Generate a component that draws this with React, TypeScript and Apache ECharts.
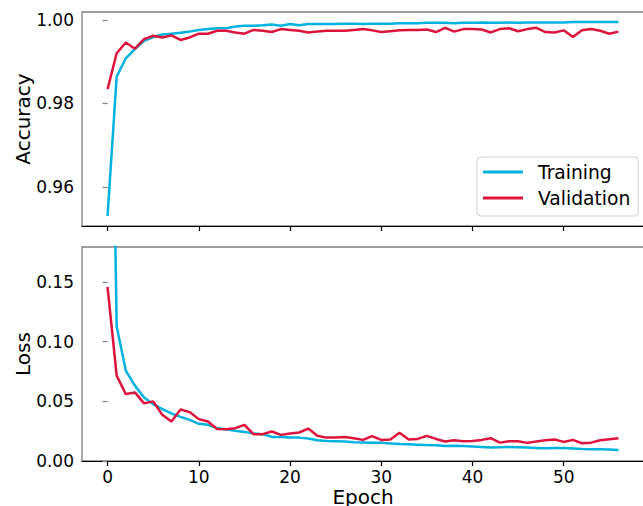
import React, { useEffect, useRef } from "react";
import * as echarts from "echarts";

const epochs: number[] = Array.from({ length: 57 }, (_, i) => i);

const trainAcc: number[] = [
  0.953, 0.9864, 0.9908, 0.993, 0.995, 0.9959, 0.9965, 0.9967, 0.9969, 0.9972,
  0.9976, 0.9978, 0.998, 0.998, 0.9984, 0.9986, 0.9986, 0.9987, 0.9989, 0.9986,
  0.999, 0.9987, 0.999, 0.999, 0.999, 0.999, 0.9991, 0.9991, 0.999, 0.9991,
  0.9991, 0.9991, 0.9992, 0.9992, 0.9992, 0.9993, 0.9993, 0.9993, 0.9992, 0.9993,
  0.9993, 0.9994, 0.9993, 0.9993, 0.9994, 0.9993, 0.9994, 0.9994, 0.9994, 0.9994,
  0.9994, 0.9995, 0.9995, 0.9995, 0.9995, 0.9995, 0.9995,
];

const valAcc: number[] = [
  0.9834, 0.992, 0.9946, 0.9931, 0.9954, 0.9962, 0.9958, 0.9963, 0.9952, 0.9958,
  0.9967, 0.9967, 0.9974, 0.9974, 0.997, 0.9967, 0.9976, 0.9974, 0.9971, 0.9978,
  0.9976, 0.9974, 0.997, 0.9972, 0.9974, 0.9974, 0.9974, 0.9976, 0.9978, 0.9975,
  0.9971, 0.9973, 0.9975, 0.9976, 0.9976, 0.9977, 0.9971, 0.9981, 0.9972, 0.9978,
  0.9978, 0.9977, 0.997, 0.9978, 0.998, 0.9973, 0.9978, 0.9981, 0.9971, 0.997,
  0.9975, 0.9959, 0.9975, 0.9978, 0.9974, 0.9967, 0.9972,
];

const trainLoss: number[] = [
  0.6, 0.1128, 0.0758, 0.0632, 0.0533, 0.0477, 0.0435, 0.0399, 0.037, 0.0345,
  0.0312, 0.0303, 0.0275, 0.0267, 0.0253, 0.0244, 0.023, 0.0225, 0.0202, 0.0202,
  0.0196, 0.0196, 0.0188, 0.0174, 0.0168, 0.0166, 0.0164, 0.0158, 0.0156, 0.0154,
  0.0152, 0.0147, 0.0142, 0.014, 0.0137, 0.0134, 0.0133, 0.0126, 0.0127, 0.0125,
  0.0122, 0.0118, 0.0114, 0.0116, 0.0117, 0.0115, 0.0113, 0.011, 0.0106, 0.0108,
  0.0109, 0.0105, 0.01, 0.0098, 0.0098, 0.0097, 0.0093,
];

const valLoss: number[] = [
  0.1459, 0.0716, 0.0561, 0.0575, 0.0483, 0.05, 0.0387, 0.0331, 0.0432, 0.041,
  0.0351, 0.0331, 0.0269, 0.0267, 0.0275, 0.0303, 0.0225, 0.0225, 0.0247, 0.0219,
  0.023, 0.0239, 0.0272, 0.0211, 0.0196, 0.0196, 0.0202, 0.0191, 0.0177, 0.0208,
  0.0177, 0.018, 0.0236, 0.018, 0.0185, 0.0211, 0.0185, 0.0163, 0.0174, 0.0166,
  0.0168, 0.0177, 0.0191, 0.0154, 0.0166, 0.0166, 0.0152, 0.0163, 0.0174, 0.018,
  0.016, 0.0177, 0.0149, 0.0154, 0.0174, 0.0183, 0.0191,
];

const xTicks: number[] = [0, 10, 20, 30, 40, 50];
const accTicks: number[] = [0.96, 0.98, 1.0];
const lossTicks: number[] = [0, 0.05, 0.1, 0.15];

const BLUE = "#00b2e0";
const RED = "#dc143c";
const FONT = "DejaVu Sans";

export default function App() {
  const ref = useRef<HTMLDivElement>(null);
  useEffect(() => {
    if (!ref.current) return;
    const chart = echarts.init(ref.current, undefined, { renderer: "svg" });
    const pair = (arr: number[]) => epochs.map((e, i) => [e, arr[i]]);
    const xAxisBase = (gridIndex: number, showLabels: boolean) => ({
      type: "value",
      gridIndex,
      min: -2.8,
      max: 58.8,
      splitLine: { show: false },
      axisLine: { show: true, onZero: false, lineStyle: { color: "#000", width: 1.2 } },
      axisTick: {
        show: true,
        inside: false,
        length: 5,
        customValues: xTicks,
        lineStyle: { color: "#000", width: 1.2 },
      },
      axisLabel: {
        show: showLabels,
        customValues: xTicks,
        fontSize: 17,
        color: "#000",
        fontFamily: FONT,
        margin: 7,
      },
      name: showLabels ? "Epoch" : "",
      nameLocation: "middle",
      nameGap: 26,
      nameTextStyle: { fontSize: 20, color: "#000", fontFamily: FONT },
    });
    const yAxisBase = (
      gridIndex: number,
      min: number,
      max: number,
      ticks: number[],
      name: string
    ) => ({
      type: "value",
      gridIndex,
      min,
      max,
      splitLine: { show: false },
      axisLine: { show: false },
      axisTick: {
        show: true,
        inside: false,
        length: 5,
        customValues: ticks,
        lineStyle: { color: "#808080", width: 1.2 },
      },
      axisLabel: {
        customValues: ticks,
        formatter: (v: number) => v.toFixed(2),
        fontSize: 17,
        color: "#000",
        fontFamily: FONT,
        margin: 8,
      },
      name,
      nameLocation: "middle",
      nameGap: 49,
      nameMoveOverlap: false,
      nameTextStyle: { fontSize: 20, color: "#000", fontFamily: FONT },
    });
    const gridBase = (top: number) => ({
      left: 82,
      top,
      width: 562,
      height: 214,
      show: true,
      borderColor: "#808080",
      borderWidth: 1.3,
      backgroundColor: "transparent",
      containLabel: false,
      outerBoundsMode: "none",
    });
    chart.setOption({
      animation: false,
      textStyle: { fontFamily: FONT },
      grid: [gridBase(12), gridBase(247)],
      xAxis: [xAxisBase(0, false), xAxisBase(1, true)],
      yAxis: [
        yAxisBase(0, 0.9506, 1.0019, accTicks, "Accuracy"),
        yAxisBase(1, 0, 0.1794, lossTicks, "Loss"),
      ],
      legend: {
        data: ["Training", "Validation"],
        orient: "vertical",
        left: 477,
        top: 157,
        backgroundColor: "#fff",
        borderColor: "#d0d0d0",
        borderWidth: 1,
        borderRadius: 4,
        padding: [4, 8, 7, 6],
        itemWidth: 40,
        itemHeight: 3,
        itemGap: 4,
        icon: "rect",
        textStyle: {
          fontSize: 18.7,
          color: "#000",
          fontFamily: FONT,
          lineHeight: 22,
          padding: [0, 0, 0, 10],
        },
      },
      series: [
        {
          name: "Training",
          type: "line",
          xAxisIndex: 0,
          yAxisIndex: 0,
          data: pair(trainAcc),
          showSymbol: false,
          symbol: "none",
          lineStyle: { color: BLUE, width: 2.5 },
          itemStyle: { color: BLUE },
          clip: true,
          z: 3,
        },
        {
          name: "Validation",
          type: "line",
          xAxisIndex: 0,
          yAxisIndex: 0,
          data: pair(valAcc),
          showSymbol: false,
          symbol: "none",
          lineStyle: { color: RED, width: 2.5 },
          itemStyle: { color: RED },
          clip: true,
          z: 4,
        },
        {
          name: "Training",
          type: "line",
          xAxisIndex: 1,
          yAxisIndex: 1,
          data: pair(trainLoss),
          showSymbol: false,
          symbol: "none",
          lineStyle: { color: BLUE, width: 2.5 },
          itemStyle: { color: BLUE },
          clip: true,
          z: 3,
        },
        {
          name: "Validation",
          type: "line",
          xAxisIndex: 1,
          yAxisIndex: 1,
          data: pair(valLoss),
          showSymbol: false,
          symbol: "none",
          lineStyle: { color: RED, width: 2.5 },
          itemStyle: { color: RED },
          clip: true,
          z: 4,
        },
      ],
    });
    return () => chart.dispose();
  }, []);
  return <div ref={ref} style={{ width: 643, height: 506, position: "absolute", left: 0, top: 0 }} />;
}
